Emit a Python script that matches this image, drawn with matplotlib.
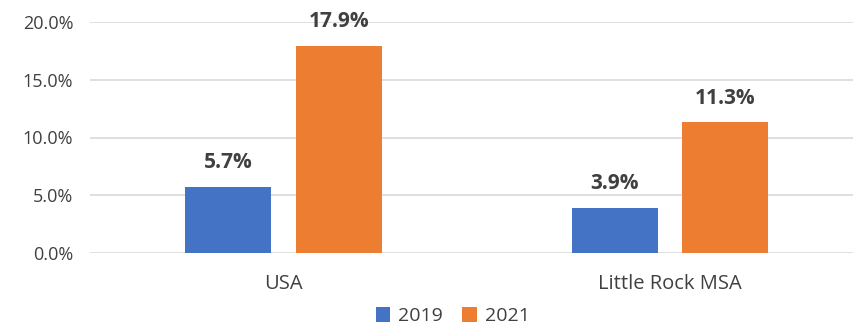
import matplotlib.pyplot as plt
import numpy as np
from matplotlib.ticker import PercentFormatter

categories = ["USA", "Little Rock MSA"]
years = ["2019", "2021"]
vals_2019 = [5.7, 3.9]
vals_2021 = [17.9, 11.3]
colors = ["#4472C4", "#ED7D31"]

plt.rcParams['font.family'] = ['Open Sans', 'DejaVu Sans']
txt = "#404040"

fig = plt.figure(figsize=(8.54, 3.28), dpi=100)
ax = fig.add_axes([90 / 854, 1 - 253 / 328, 1 - 90 / 854, (253 - 22) / 328])

x = np.arange(len(categories))
w = 0.222
off = 0.143
for vals, c, lab, d in [(vals_2019, colors[0], years[0], -off), (vals_2021, colors[1], years[1], off)]:
    bars = ax.bar(x + d, vals, w, color=c, label=lab, zorder=3)
    for b, v in zip(bars, vals):
        ax.text(b.get_x() + b.get_width() / 2, v + 1.2, f"{v:.1f}%", ha='center', va='bottom',
                fontsize=15, fontweight='bold', color=txt)

ax.set_xlim(-0.5, 1.476)
ax.set_ylim(0, 20)
ax.set_yticks([0, 5, 10, 15, 20])
ax.yaxis.set_major_formatter(PercentFormatter(decimals=1))
ax.set_xticks(x)
ax.set_xticklabels(categories)
ax.tick_params(axis='y', length=0, labelsize=13, labelcolor=txt, pad=12)
ax.tick_params(axis='x', length=0, labelsize=14.5, labelcolor=txt, pad=15)
ax.grid(axis='y', color="#D9D9D9", linewidth=1.2, zorder=0)
for s in ax.spines.values():
    s.set_visible(False)

fig.legend(loc='lower center', bbox_to_anchor=(0.53, -0.045), ncol=2, frameon=False,
           fontsize=14, handlelength=0.75, handleheight=0.75, columnspacing=1.0,
           handletextpad=0.4, labelcolor=txt)

fig.savefig("out.png", dpi=100)
